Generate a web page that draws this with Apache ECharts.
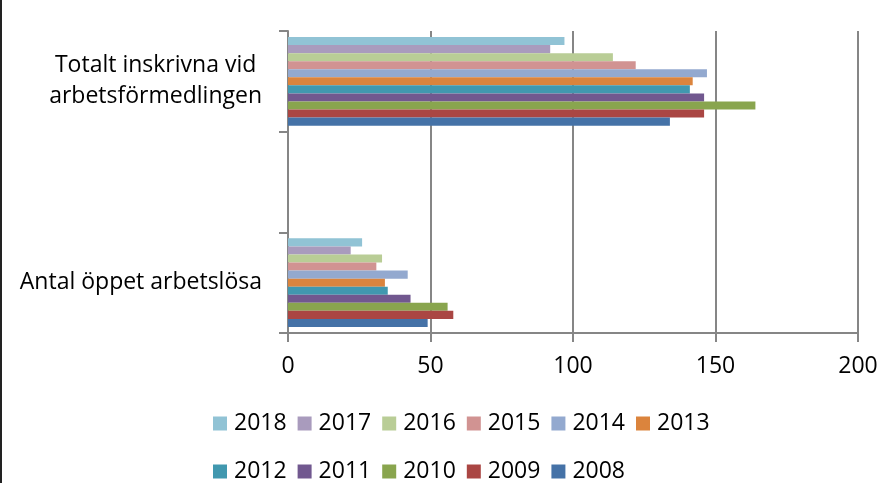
<!DOCTYPE html>
<html>
<head>
<meta charset="utf-8">
<script src="https://cdn.jsdelivr.net/npm/echarts@6/dist/echarts.min.js"></script>
<style>html,body{margin:0;padding:0;background:#fff;}#c{width:882px;height:483px;}</style>
</head>
<body>
<div id="c"></div>
<script>
var categories = ['Antal öppet arbetslösa', '', 'Totalt inskrivna vid arbetsförmedlingen'];
var years = ['2008','2009','2010','2011','2012','2013','2014','2015','2016','2017','2018'];
var openUnemployed = [49, 58, 56, 43, 35, 34, 42, 31, 33, 22, 26];
var totalRegistered = [134, 146, 164, 146, 141, 142, 147, 122, 114, 92, 97];
var colors = ['#4572A7','#AA4643','#89A54E','#71588F','#4198AF','#DB843D','#93A9CF','#D19392','#B9CD96','#A99BBD','#91C3D5'];
var xTicks = [0, 50, 100, 150, 200];
var legendRow1 = ['2018','2017','2016','2015','2014','2013'];
var legendRow2 = ['2012','2011','2010','2009','2008'];

var FONT = '"Open Sans", sans-serif';
var chart = echarts.init(document.getElementById('c'));
var series = [];
for (var i = years.length - 1; i >= 0; i--) {
  series.push({
    name: years[i], type: 'bar', barGap: '0%', barCategoryGap: '12%',
    itemStyle: { color: colors[i] },
    data: [openUnemployed[i], null, totalRegistered[i]]
  });
}
function legendCfg(row, top) {
  return {
    data: row, left: 213, top: top, orient: 'horizontal', padding: 0,
    itemWidth: 14, itemHeight: 14, itemGap: 11, icon: 'rect',
    textStyle: { fontFamily: FONT, fontSize: 23, color: '#000', padding: [0, 0, 0, 2] }
  };
}
chart.setOption({
  animation: false,
  graphic: [{ type: 'rect', shape: { x: 0, y: 0, width: 2, height: 483 }, style: { fill: '#222' } }],
  grid: { left: 288, right: 24, top: 31, bottom: 150, containLabel: false },
  legend: [legendCfg(legendRow1, 412), legendCfg(legendRow2, 460)],
  xAxis: {
    type: 'value', min: xTicks[0], max: xTicks[xTicks.length - 1], interval: 50,
    axisLine: { show: true, lineStyle: { color: '#868686', width: 2 } },
    axisTick: { show: true, length: 9, lineStyle: { color: '#868686', width: 2 } },
    splitLine: { show: true, lineStyle: { color: '#868686', width: 2 } },
    axisLabel: { fontFamily: FONT, fontSize: 23, color: '#000', margin: 22 }
  },
  yAxis: {
    type: 'category', data: categories,
    axisLine: { show: true, lineStyle: { color: '#868686', width: 2 } },
    axisTick: { show: true, length: 9, lineStyle: { color: '#868686', width: 2 } },
    axisLabel: {
      margin: 26, color: '#000', fontFamily: FONT, fontSize: 23, lineHeight: 31,
      formatter: function (v) {
        if (!v) return '';
        if (v.indexOf('Totalt') === 0) return '{c|Totalt inskrivna vid}\n{c|arbetsförmedlingen}';
        return '{c|' + v + '}';
      },
      rich: { c: { align: 'center', fontFamily: FONT, fontSize: 23, lineHeight: 31, color: '#000' } }
    }
  },
  series: series
});
</script>
</body>
</html>
